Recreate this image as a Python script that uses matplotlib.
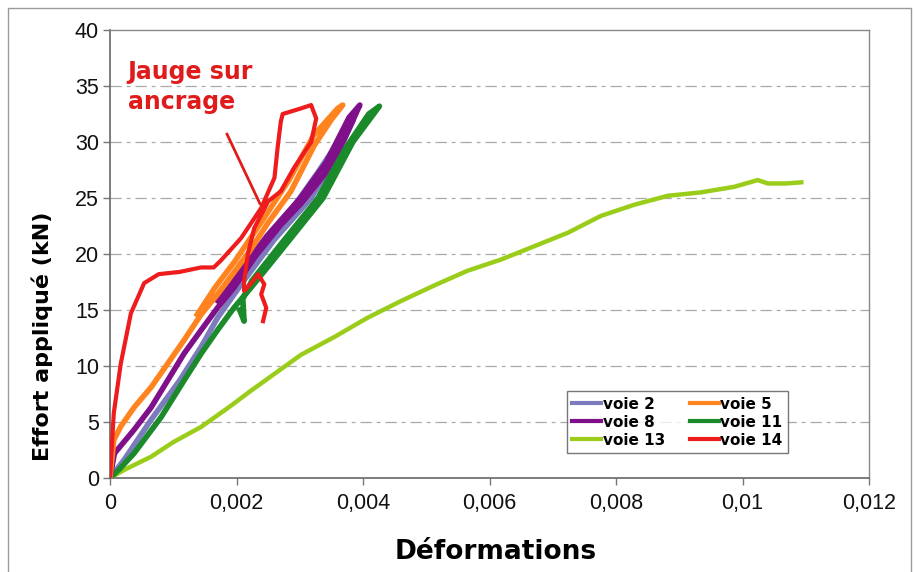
import matplotlib
matplotlib.use("Agg")
import matplotlib.pyplot as plt
from matplotlib.patches import Rectangle
from matplotlib.lines import Line2D

# -----------------------------
# Data (strain, load kN)
# loading branch first, then the unloading branch
# -----------------------------
v2_x = [0, 0.00022, 0.00065, 0.0011, 0.00144, 0.0017, 0.0021, 0.0026, 0.00318, 0.0036, 0.00385,
        0.0037, 0.0033, 0.0028, 0.0024, 0.002]
v2_y = [0, 1.6, 5.2, 8.7, 11.7, 14.3, 17.5, 21.3, 25.0, 29.0, 32.0,
        30.8, 27.4, 23.4, 20.2, 16.8]

v5_x = [0, 0.00006, 0.00017, 0.00038, 0.00065, 0.00091, 0.00117, 0.00144, 0.0017, 0.00186, 0.0022,
        0.0025, 0.00286, 0.00323, 0.0035, 0.00368,
        0.0036, 0.00322, 0.00283, 0.00241, 0.00198, 0.00166, 0.00138]
v5_y = [0, 3.4, 4.6, 6.3, 8.1, 10.2, 12.3, 14.6, 16.4, 17.6, 20.2,
        22.8, 25.6, 29.7, 32.0, 33.3,
        33.0, 30.6, 26.6, 23.0, 19.4, 17.0, 14.6]

v8_x = [0, 0.00007, 0.00038, 0.00065, 0.00091, 0.00117, 0.00144, 0.0017, 0.00196, 0.0023, 0.0027,
        0.00302, 0.00339, 0.0037, 0.00395,
        0.00378, 0.00342, 0.00301, 0.00248, 0.00205, 0.00171]
v8_y = [0, 2.2, 4.3, 6.3, 8.7, 11.1, 13.2, 15.2, 17.0, 19.8, 22.6,
        24.5, 27.1, 30.2, 33.3,
        32.2, 28.2, 25.0, 21.6, 18.4, 15.8]

v11_x = [0, 0.00015, 0.00038, 0.00081, 0.00117, 0.00144, 0.0017, 0.00196, 0.00223, 0.00266, 0.00337,
         0.00384, 0.00426,
         0.00409, 0.00367, 0.00329, 0.00269, 0.00224, 0.0021, 0.00212, 0.00205]
v11_y = [0, 0.8, 2.2, 5.45, 8.7, 11.1, 13.2, 15.2, 17.0, 20.0, 25.0,
         30.0, 33.2,
         32.5, 29.0, 25.0, 20.8, 17.6, 16.0, 14.0, 15.0]

v13_x = [0, 0.00025, 0.00065, 0.001, 0.00144, 0.0019, 0.00223, 0.0026, 0.00302, 0.00355, 0.00407,
         0.0046, 0.00513, 0.00565, 0.00618, 0.00671, 0.00724, 0.00776, 0.00829, 0.00882, 0.00934,
         0.00987, 0.01024, 0.0104, 0.0107, 0.01093]
v13_y = [0, 0.8, 1.9, 3.2, 4.56, 6.4, 7.8, 9.3, 11.0, 12.6, 14.3,
         15.8, 17.2, 18.5, 19.5, 20.7, 21.9, 23.4, 24.4, 25.2, 25.5,
         26.0, 26.6, 26.3, 26.3, 26.4]

v14_x = [0, 0.00002, 0.00006, 0.00017, 0.00033, 0.00054, 0.00077, 0.0011, 0.00144, 0.00164, 0.00175,
         0.00207, 0.00239, 0.0026, 0.00265, 0.0027, 0.00273, 0.00302, 0.00318, 0.00326, 0.00318,
         0.00291, 0.0027, 0.0025, 0.00228, 0.00218, 0.00212, 0.00212, 0.00225, 0.00234, 0.00244,
         0.00239, 0.00247, 0.00242]
v14_y = [0, 2.0, 5.8, 10.2, 14.7, 17.4, 18.2, 18.4, 18.8, 18.8, 19.4,
         21.4, 24.1, 26.8, 29.5, 31.8, 32.5, 33.0, 33.3, 32.1, 30.0,
         27.7, 25.6, 24.7, 22.3, 20.0, 17.6, 16.7, 17.5, 18.2, 17.3,
         16.4, 15.2, 14.0]

colors = {"voie 2": "#7b7bbd", "voie 5": "#ff8420", "voie 8": "#80108a",
          "voie 11": "#1a8a2a", "voie 13": "#9acd1a", "voie 14": "#ee1c1c"}

x_ticks = [0, 0.002, 0.004, 0.006, 0.008, 0.01, 0.012]
x_tick_labels = ["0", "0,002", "0,004", "0,006", "0,008", "0,01", "0,012"]
y_ticks = [0, 5, 10, 15, 20, 25, 30, 35, 40]

# -----------------------------
# Figure
# -----------------------------
plt.rcParams['font.family'] = ['DejaVu Sans']
fig = plt.figure(figsize=(9.15, 5.72), dpi=100)
ax = fig.add_axes([110/915, 1 - 478/572, 759/915, 448/572])

ax.plot(v13_x, v13_y, color=colors["voie 13"], lw=3.2, zorder=3)
ax.plot(v2_x, v2_y, color=colors["voie 2"], lw=4, zorder=3)
ax.plot(v11_x, v11_y, color=colors["voie 11"], lw=4, zorder=4)
ax.plot(v8_x, v8_y, color=colors["voie 8"], lw=4, zorder=5)
ax.plot(v5_x, v5_y, color=colors["voie 5"], lw=4, zorder=6)
ax.plot(v14_x, v14_y, color=colors["voie 14"], lw=3, zorder=7)

ax.set_xlim(0, 0.012)
ax.set_ylim(0, 40)
ax.set_xticks(x_ticks)
ax.set_xticklabels(x_tick_labels)
ax.set_yticks(y_ticks)

tick_font = ['Liberation Sans Narrow', 'Liberation Sans']
for lab in ax.get_xticklabels() + ax.get_yticklabels():
    lab.set_family(tick_font)
    lab.set_fontsize(15.5)
    lab.set_color("#111111")
ax.tick_params(axis='both', direction='out', length=5, width=1, color="#777777")
ax.tick_params(axis='x', pad=6)
ax.tick_params(axis='y', pad=3)

# dashed horizontal grid
for yv in y_ticks[1:-1]:
    ax.axhline(yv, color="#a8a8a8", lw=0.9, ls=(0, (9, 4, 3, 4)), zorder=1)

for side in ['left', 'bottom']:
    ax.spines[side].set_color("#666666")
    ax.spines[side].set_linewidth(1.2)
for side in ['top', 'right']:
    ax.spines[side].set_color("#888888")
    ax.spines[side].set_linewidth(1.0)

# axis labels
fig.text(496/915, 1 - 552/572, "Déformations", ha='center', va='center',
         fontsize=19, fontweight='bold')
fig.text(42/915, 1 - 336/572, "Effort appliqué (kN)", ha='center', va='center',
         rotation=90, fontsize=16, fontweight='bold')

# annotation
ax.text(0.00028, 34.9, "Jauge sur\nancrage", color="#e01b1b", fontsize=17,
        fontweight='bold', ha='left', va='center', linespacing=1.3)
ax.plot([0.00185, 0.00237], [30.7, 24.5], color="#e01b1b", lw=2, zorder=8)

# legend: column order voie 2, 8, 13 | voie 5, 11, 14
order = ["voie 2", "voie 8", "voie 13", "voie 5", "voie 11", "voie 14"]
handles = [Line2D([], [], color=colors[k], lw=3) for k in order]
leg = ax.legend(handles, order, ncol=2, loc='lower left',
                bbox_to_anchor=(0.602, 0.0556), borderaxespad=0,
                prop={'family': 'DejaVu Sans', 'weight': 'bold', 'size': 11},
                handlelength=1.9, handletextpad=0.1, columnspacing=1.6,
                labelspacing=0.2, fancybox=False, frameon=True,
                borderpad=0.35)
leg.get_frame().set_edgecolor("#555555")
leg.get_frame().set_linewidth(1.0)

# outer chart border
fig.add_artist(Rectangle((8/915, -0.02), 903/915, 1 - 8/572 + 0.02,
                         transform=fig.transFigure, fill=False,
                         edgecolor="#9a9a9a", lw=1))

fig.savefig("out.png", dpi=100)
